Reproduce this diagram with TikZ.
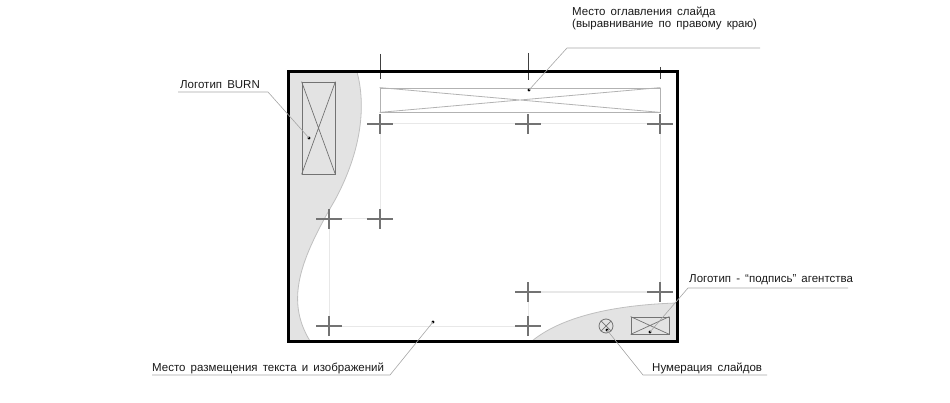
\documentclass[tikz,border=0pt]{standalone}
\usepackage{fontspec}
\setmainfont[WordSpace=1.6]{Liberation Sans}
\usetikzlibrary{arrows.meta}

\begin{document}
\begin{tikzpicture}[x=1pt, y=-1pt,
    txt/.style={font=\fontsize{11.5}{12}\selectfont, text=black!90, inner sep=0pt},
    lead/.style={draw=black!35, line width=0.6pt},
    regmark/.style={draw=black!55, line width=1.2pt},
    tick/.style={draw=black!75, line width=0.8pt},
    guide/.style={draw=black!9, line width=1pt},
    zone/.style={draw=black!25, line width=0.8pt},
    dot/.style={circle, fill=black, inner sep=0pt, minimum size=3.2pt}]
    \useasboundingbox (0,0) rectangle (950,403);
    % gray zones
    \fill[black!11] (288,72) -- (357,72) .. controls (366,105) and (362,150) .. (335,200) .. controls (300,260) and (285,300) .. (310,341) -- (288,341) -- cycle;
    \draw[zone] (357,72) .. controls (366,105) and (362,150) .. (335,200) .. controls (300,260) and (285,300) .. (310,341);
    \fill[black!11] (532,341) .. controls (560,318) and (610,305) .. (677,303) -- (677,341) -- cycle;
    \draw[zone] (532,341) .. controls (560,318) and (610,305) .. (677,303);
    % marks
    \coordinate (m1) at (380,124);
    \coordinate (m2) at (528,124);
    \coordinate (m3) at (660,124);
    \coordinate (m4) at (329,219);
    \coordinate (m5) at (380,219);
    \coordinate (m6) at (329,326);
    \coordinate (m7) at (528,326);
    \coordinate (m8) at (528,292);
    \coordinate (m9) at (660,292);
    \draw[guide] (m1) -- (m3) -- (m9) -- (m8) -- (m7) -- (m6) -- (m4) -- (m5) -- cycle;
    \foreach \m in {m1,m2,m3,m4,m5,m6,m7,m8,m9}
        \draw[regmark] ([xshift=-13pt]\m) -- ([xshift=13pt]\m) ([yshift=-10pt]\m) -- ([yshift=10pt]\m);
    \draw[tick] (380,54) -- (380,79);
    \draw[tick] (528,53) -- (528,80);
    \draw[tick] (660,67) -- (660,79);
    % frame
    \draw[line width=3pt] (288,72) rectangle (677,341);
    % boxes
    \node[draw=black!30, line width=0.8pt, minimum width=280pt, minimum height=24pt, inner sep=0pt] (hdr) at (520,100) {};
    \draw[black!30, line width=0.8pt] (hdr.north west) -- (hdr.south east) (hdr.south west) -- (hdr.north east);
    \node[draw=black!55, line width=0.8pt, minimum width=33pt, minimum height=92pt, inner sep=0pt] (logo) at (318.5,128) {};
    \draw[black!55, line width=0.7pt] (logo.north west) -- (logo.south east) (logo.south west) -- (logo.north east);
    \node[draw=black!55, line width=0.8pt, minimum width=38pt, minimum height=17pt, inner sep=0pt] (sign) at (650,325.5) {};
    \draw[black!55, line width=0.7pt] (sign.north west) -- (sign.south east) (sign.south west) -- (sign.north east);
    \node[shape=circle, draw=black!55, line width=0.8pt, minimum size=14pt, inner sep=0pt] (num) at (606,326) {};
    \draw[black!55, line width=0.7pt] (num.north west) -- (num.south east) (num.south west) -- (num.north east);
    % dots
    \node[dot] (dlogo) at (309,138) {};
    \node[dot] (dhdr) at (529,90) {};
    \node[dot] (dtxt) at (433,322) {};
    \node[dot] (dnum) at (607,330) {};
    \node[dot] (dsign) at (650,332) {};
    % labels
    \node[txt, anchor=base west] (burn) at (180,89) {Логотип BURN};
    \node[txt, anchor=base west, align=left] (toc) at (572,28) {Место оглавления слайда\\(выравнивание по правому краю)};
    \node[txt, anchor=base west] (body) at (152,371) {Место размещения текста и изображений};
    \node[txt, anchor=base west] (pages) at (652,371) {Нумерация слайдов};
    \node[txt, anchor=base west] (agency) at (689,283) {Логотип - “подпись” агентства};
    \coordinate (b1) at (268,92);
    \coordinate (b0) at (178,92);
    \coordinate (h1) at (567,48);
    \coordinate (h0) at (760,48);
    \coordinate (t1) at (390,375);
    \coordinate (t0) at (152,375);
    \coordinate (n1) at (643,375);
    \coordinate (n0) at (767,375);
    \coordinate (a1) at (688,288);
    \coordinate (a0) at (848,288);
    \draw[lead] (dlogo.center) -- (b1) -- (b0);
    \draw[lead] (dhdr.center) -- (h1) -- (h0);
    \draw[lead] (dtxt.center) -- (t1) -- (t0);
    \draw[lead] (dnum.center) -- (n1) -- (n0);
    \draw[lead] (dsign.center) -- (a1) -- (a0);
\end{tikzpicture}
\end{document}
